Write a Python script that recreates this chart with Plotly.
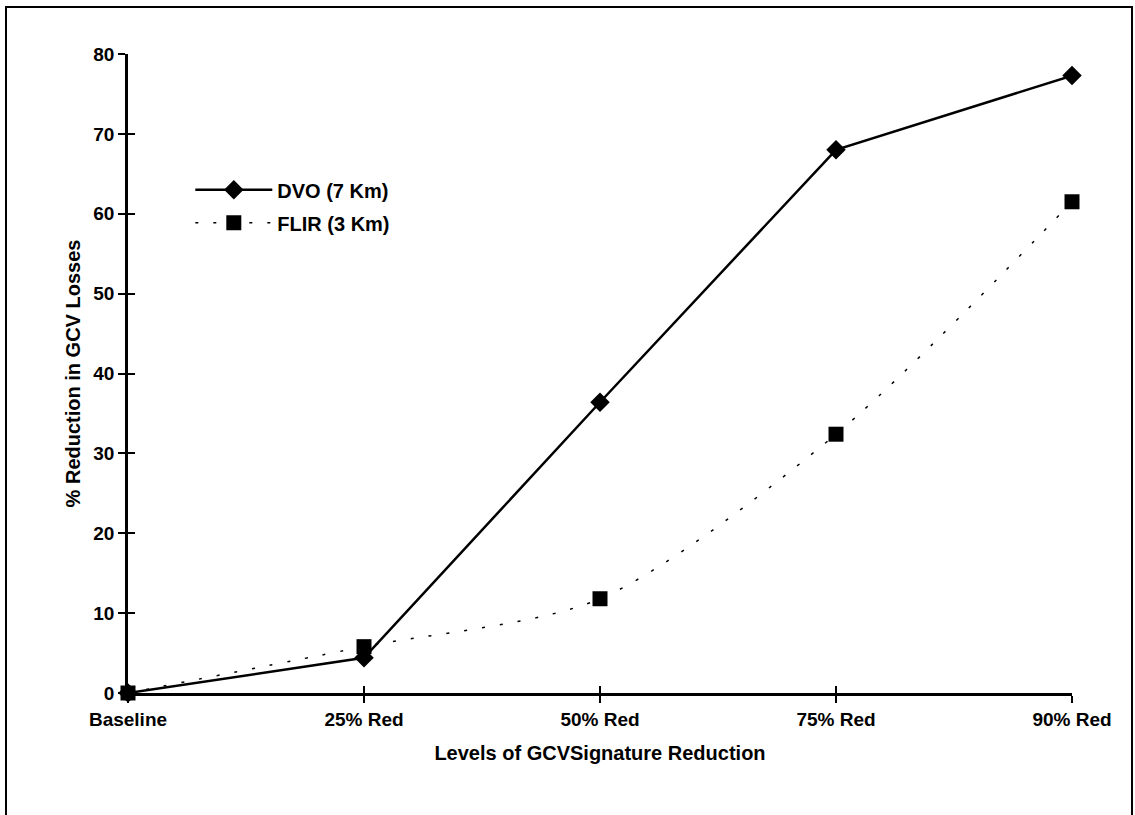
import plotly.graph_objects as go

categories = ["Baseline", "25% Red", "50% Red", "75% Red", "90% Red"]
dvo = [0, 4.4, 36.4, 68.0, 77.3]
flir = [0, 5.8, 11.8, 32.4, 61.5]
y_ticks = [0, 10, 20, 30, 40, 50, 60, 70, 80]

FONT = "Liberation Sans, Arial, Helvetica, sans-serif"
xidx = list(range(len(categories)))

fig = go.Figure()
fig.add_trace(go.Scatter(
    x=xidx, y=dvo, name="<b>DVO (7 Km)</b>", mode="lines+markers", legendgroup="a",
    line=dict(color="black", width=2.5), cliponaxis=False,
    marker=dict(symbol="diamond", size=15, color="black"),
))
fig.add_trace(go.Scatter(
    x=xidx, y=flir, name="<b>FLIR (3 Km)</b>", mode="lines+markers", legendgroup="b",
    line=dict(color="black", width=1.5, dash="3px,15px", shape="spline", smoothing=0.8),
    marker=dict(symbol="square", size=15, color="black"), cliponaxis=False,
))

tickfont = dict(family=FONT, size=19, color="black")
titlefont = dict(family=FONT, size=20, color="black")
fig.update_layout(
    width=1135, height=815,
    paper_bgcolor="white", plot_bgcolor="white",
    margin=dict(l=128, r=63, t=54, b=122),
    font=dict(family=FONT, color="black"),
    showlegend=True,
    legend=dict(x=0.066, y=0.818, xanchor="left", yanchor="top",
                font=dict(family=FONT, size=20, color="black"),
                bgcolor="rgba(0,0,0,0)", tracegroupgap=4, itemwidth=77),
    xaxis=dict(
        range=[0, 4], tickmode="array", tickvals=xidx,
        ticktext=["<b>%s</b>" % c for c in categories],
        tickfont=tickfont, showgrid=False, zeroline=False,
        showline=True, linecolor="black", linewidth=2.5,
        ticks="outside", ticklen=7, tickwidth=2, tickcolor="black",
        title=dict(text="<b>Levels of GCVSignature Reduction</b>",
                   font=titlefont, standoff=18),
    ),
    yaxis=dict(
        range=[0, 80], tickmode="array", tickvals=y_ticks,
        ticktext=["<b>%d</b>" % v for v in y_ticks],
        tickfont=tickfont, showgrid=False, zeroline=False,
        showline=True, linecolor="black", linewidth=2.5,
        ticks="outside", ticklen=7, tickwidth=2, tickcolor="black",
        title=dict(text="<b>% Reduction in GCV Losses</b>",
                   font=titlefont, standoff=8),
    ),
    xaxis2=dict(range=[0, 4], overlaying="x", tickmode="array", tickvals=xidx,
                showticklabels=False, showgrid=False, zeroline=False,
                ticks="inside", ticklen=7, tickwidth=2, tickcolor="black"),
    yaxis2=dict(range=[0, 80], overlaying="y", tickmode="array", tickvals=y_ticks,
                showticklabels=False, showgrid=False, zeroline=False,
                ticks="inside", ticklen=7, tickwidth=2, tickcolor="black"),
)
# invisible trace to bind the secondary axes
fig.add_trace(go.Scatter(x=[0], y=[0], xaxis="x2", yaxis="y2", mode="markers",
                         marker=dict(opacity=0), showlegend=False, hoverinfo="skip"))

fig.add_shape(type="rect", xref="paper", yref="paper",
              x0=-122/944, x1=(1132-128)/944, y0=-(830-693)/639, y1=(693-7)/639,
              line=dict(color="black", width=2), fillcolor="rgba(0,0,0,0)")

fig.write_html("out.html", config={"displayModeBar": False},
               post_script="document.body.style.margin='0px';")
